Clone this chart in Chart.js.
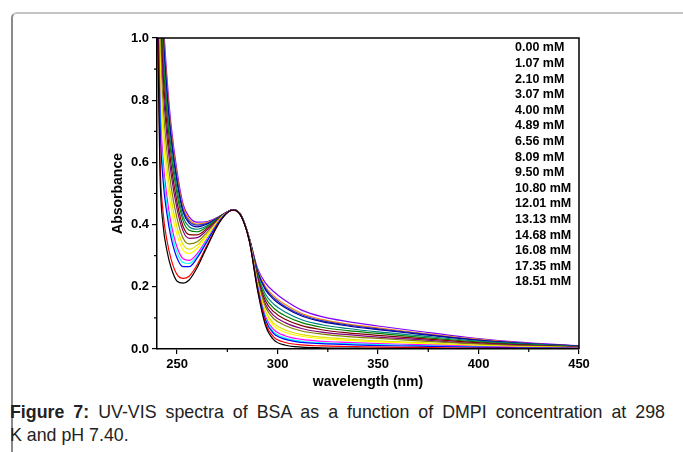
<!DOCTYPE html>
<html>
<head>
<meta charset="utf-8">
<script src="https://cdn.jsdelivr.net/npm/chart.js@4.4.1/dist/chart.umd.min.js"></script>
<style>
    body { margin: 0; background: #fff; font-family: "Liberation Sans", Arial, sans-serif; }
    #frame {
        position: absolute; left: 11px; top: 12px; width: 800px; height: 600px;
        border-top: 2px solid #c4c4c4; border-left: 2px solid #8a8a8a;
        border-top-left-radius: 6px;
    }
    #chart { position: absolute; left: 0; top: 0; }
    #caption {
        position: absolute; left: 10px; top: 401px; width: 655px;
        font-size: 17.8px; line-height: 23px; color: #222;
    }
    #caption .l1 { text-align: justify; text-align-last: justify; }
</style>
</head>
<body>
<div id="frame"></div>
<canvas id="chart" width="683" height="400"></canvas>
<div id="caption">
    <div class="l1"><b>Figure 7:</b> UV-VIS spectra of BSA as a function of DMPI concentration at 298</div>
    <div>K and pH 7.40.</div>
</div>
<script>
// wavelength grid (nm)
const wavelengths = [240, 241.5, 243, 245, 247, 250, 253, 256, 260, 265, 270, 274, 278, 282, 286, 290, 294, 298, 304, 312, 322, 335, 350, 370, 395, 420, 450];

const concentrations = ["0.00 mM", "1.07 mM", "2.10 mM", "3.07 mM", "4.00 mM", "4.89 mM", "6.56 mM", "8.09 mM",
    "9.50 mM", "10.80 mM", "12.01 mM", "13.13 mM", "14.68 mM", "16.08 mM", "17.35 mM", "18.51 mM"];

const colors = ["#000000", "#FF0000", "#0000FF", "#00FFFF", "#FF00FF", "#FFFF00", "#E0E000", "#808000",
    "#800080", "#800000", "#008000", "#008080", "#0000A0", "#3030C0", "#FF8000", "#8000FF"];

// absorbance, one array per concentration
const a0_00 = [1.15, 0.56, 0.40, 0.315, 0.262, 0.218, 0.212, 0.222, 0.262, 0.33, 0.395, 0.432, 0.447, 0.425, 0.345, 0.19, 0.075, 0.03, 0.012, 0.006, 0.004, 0.003, 0.002, 0.002, 0.001, 0.001, 0.001];
const a1_07 = [1.183, 0.607, 0.441, 0.348, 0.289, 0.239, 0.227, 0.234, 0.271, 0.335, 0.397, 0.432, 0.447, 0.425, 0.346, 0.194, 0.083, 0.039, 0.021, 0.013, 0.010, 0.008, 0.006, 0.005, 0.003, 0.002, 0.002];
const a2_10 = [1.266, 0.726, 0.543, 0.432, 0.358, 0.292, 0.265, 0.265, 0.293, 0.347, 0.401, 0.433, 0.447, 0.426, 0.347, 0.199, 0.093, 0.050, 0.031, 0.021, 0.017, 0.014, 0.011, 0.009, 0.006, 0.004, 0.002];
const a3_07 = [1.293, 0.765, 0.577, 0.459, 0.381, 0.310, 0.278, 0.275, 0.300, 0.351, 0.402, 0.433, 0.447, 0.426, 0.348, 0.201, 0.097, 0.055, 0.035, 0.025, 0.020, 0.017, 0.014, 0.011, 0.007, 0.004, 0.002];
const a4_00 = [1.321, 0.805, 0.611, 0.487, 0.404, 0.327, 0.290, 0.285, 0.307, 0.355, 0.404, 0.434, 0.447, 0.426, 0.348, 0.205, 0.104, 0.063, 0.042, 0.031, 0.025, 0.021, 0.017, 0.014, 0.009, 0.005, 0.003];
const a4_89 = [1.381, 0.892, 0.686, 0.548, 0.454, 0.366, 0.318, 0.307, 0.323, 0.364, 0.407, 0.434, 0.447, 0.426, 0.349, 0.210, 0.115, 0.075, 0.053, 0.041, 0.033, 0.028, 0.023, 0.018, 0.011, 0.007, 0.004];
const a6_56 = [1.420, 0.947, 0.733, 0.587, 0.486, 0.390, 0.336, 0.321, 0.334, 0.369, 0.409, 0.434, 0.447, 0.426, 0.350, 0.214, 0.122, 0.083, 0.061, 0.046, 0.038, 0.032, 0.026, 0.021, 0.013, 0.008, 0.004];
const a8_09 = [1.464, 1.010, 0.788, 0.631, 0.523, 0.419, 0.356, 0.338, 0.345, 0.376, 0.411, 0.435, 0.447, 0.427, 0.351, 0.221, 0.135, 0.098, 0.075, 0.058, 0.048, 0.040, 0.034, 0.026, 0.017, 0.010, 0.005];
const a9_50 = [1.513, 1.081, 0.849, 0.681, 0.564, 0.450, 0.379, 0.356, 0.358, 0.383, 0.413, 0.435, 0.448, 0.427, 0.352, 0.225, 0.144, 0.108, 0.084, 0.066, 0.054, 0.046, 0.038, 0.030, 0.019, 0.012, 0.006];
const a10_80 = [1.546, 1.129, 0.890, 0.715, 0.592, 0.471, 0.394, 0.368, 0.367, 0.388, 0.415, 0.436, 0.448, 0.427, 0.352, 0.231, 0.154, 0.120, 0.095, 0.075, 0.062, 0.052, 0.044, 0.034, 0.022, 0.013, 0.006];
const a12_01 = [1.585, 1.184, 0.937, 0.753, 0.624, 0.496, 0.412, 0.382, 0.377, 0.393, 0.417, 0.436, 0.448, 0.427, 0.353, 0.236, 0.165, 0.132, 0.106, 0.085, 0.070, 0.059, 0.050, 0.038, 0.025, 0.015, 0.007];
const a13_13 = [1.612, 1.224, 0.971, 0.781, 0.647, 0.514, 0.425, 0.393, 0.385, 0.397, 0.419, 0.436, 0.448, 0.428, 0.353, 0.242, 0.176, 0.145, 0.118, 0.094, 0.078, 0.066, 0.055, 0.043, 0.028, 0.017, 0.008];
const a14_68 = [1.645, 1.271, 1.012, 0.815, 0.674, 0.535, 0.440, 0.405, 0.393, 0.402, 0.420, 0.437, 0.448, 0.428, 0.354, 0.249, 0.190, 0.160, 0.132, 0.106, 0.088, 0.074, 0.062, 0.048, 0.031, 0.019, 0.009];
const a16_08 = [1.662, 1.295, 1.032, 0.831, 0.688, 0.545, 0.447, 0.411, 0.398, 0.404, 0.421, 0.437, 0.448, 0.428, 0.354, 0.251, 0.194, 0.165, 0.136, 0.110, 0.091, 0.077, 0.065, 0.050, 0.032, 0.019, 0.009];
const a17_35 = [1.678, 1.318, 1.053, 0.848, 0.702, 0.556, 0.455, 0.417, 0.402, 0.407, 0.422, 0.437, 0.448, 0.428, 0.355, 0.254, 0.200, 0.171, 0.142, 0.114, 0.095, 0.080, 0.068, 0.052, 0.034, 0.020, 0.009];
const a18_51 = [1.70, 1.35, 1.08, 0.87, 0.72, 0.57, 0.465, 0.425, 0.408, 0.41, 0.423, 0.437, 0.448, 0.428, 0.355, 0.26, 0.212, 0.185, 0.155, 0.125, 0.104, 0.088, 0.074, 0.057, 0.037, 0.022, 0.010];

const series = [a0_00, a1_07, a2_10, a3_07, a4_00, a4_89, a6_56, a8_09, a9_50, a10_80, a12_01, a13_13, a14_68, a16_08, a17_35, a18_51];

const xTicks = [250, 300, 350, 400, 450];
const xMinor = [275, 325, 375, 425];
const yTicks = [0, 0.2, 0.4, 0.6, 0.8, 1.0];
const yMinor = [0.1, 0.3, 0.5, 0.7, 0.9];

const FONT = "'Liberation Sans', Arial, sans-serif";

// box on top/right, minor ticks and the concentration list
const extrasPlugin = {
    id: "extras",
    afterDraw(chart) {
        const ctx = chart.ctx;
        const a = chart.chartArea;
        const x = chart.scales.x, y = chart.scales.y;
        ctx.save();
        ctx.strokeStyle = "#000";
        ctx.lineWidth = 1.5;
        ctx.beginPath();
        ctx.moveTo(a.left, a.top);
        ctx.lineTo(a.right, a.top);
        ctx.lineTo(a.right, a.bottom);
        ctx.stroke();

        ctx.lineWidth = 1.2;
        ctx.beginPath();
        xMinor.forEach(v => {
            const px = x.getPixelForValue(v);
            ctx.moveTo(px, a.bottom);
            ctx.lineTo(px, a.bottom + 3);
        });
        yMinor.forEach(v => {
            const py = y.getPixelForValue(v);
            ctx.moveTo(a.left, py);
            ctx.lineTo(a.left - 3, py);
        });
        ctx.stroke();

        ctx.fillStyle = "#000";
        ctx.font = "bold 12.5px " + FONT;
        ctx.textBaseline = "middle";
        ctx.textAlign = "left";
        concentrations.forEach((c, i) => {
            ctx.fillText(c, 515, 48 + i * 15.6);
        });
        ctx.restore();
    }
};

new Chart(document.getElementById("chart").getContext("2d"), {
    type: "line",
    data: {
        datasets: series.map((s, i) => ({
            label: concentrations[i],
            data: wavelengths.map((w, j) => ({ x: w, y: s[j] })),
            borderColor: colors[i],
            borderWidth: 1.2,
            pointRadius: 0,
            fill: false,
            cubicInterpolationMode: "monotone"
        }))
    },
    options: {
        responsive: false,
        animation: false,
        devicePixelRatio: 1,
        layout: { padding: { left: 110, right: 104, top: 38, bottom: 9 } },
        plugins: { legend: { display: false }, tooltip: { enabled: false } },
        scales: {
            x: {
                type: "linear",
                min: 240,
                max: 450,
                afterBuildTicks: s => { s.ticks = xTicks.map(v => ({ value: v })); },
                afterFit: s => { s.height = 42; },
                border: { color: "#000", width: 1.5 },
                grid: { drawOnChartArea: false, tickLength: 5, color: "#000", lineWidth: 1.2 },
                ticks: { color: "#000", padding: 3, font: { family: FONT, size: 13, weight: "bold" } },
                title: {
                    display: true, text: "wavelength (nm)", color: "#000", padding: 0,
                    font: { family: FONT, size: 14, weight: "bold" }
                }
            },
            y: {
                min: 0,
                max: 1,
                afterBuildTicks: s => { s.ticks = yTicks.map(v => ({ value: v })); },
                afterFit: s => { s.width = 47; },
                border: { color: "#000", width: 1.5 },
                grid: { drawOnChartArea: false, tickLength: 5, color: "#000", lineWidth: 1.2 },
                ticks: {
                    color: "#000", padding: 3,
                    font: { family: FONT, size: 13, weight: "bold" },
                    callback: v => v.toFixed(1)
                },
                title: {
                    display: true, text: "Absorbance", color: "#000", padding: 0,
                    font: { family: FONT, size: 14, weight: "bold" }
                }
            }
        }
    },
    plugins: [extrasPlugin]
});
</script>
</body>
</html>
